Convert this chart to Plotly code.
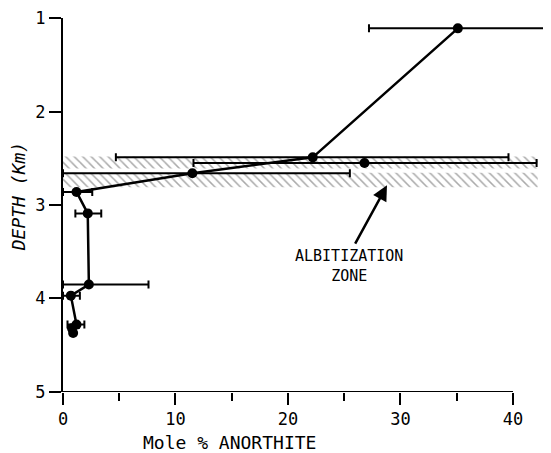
import plotly.graph_objects as go

# ---- data ----
anorthite = [35.1, 22.2, 11.5, 1.2, 2.2, 2.3, 0.7, 1.2, 0.8, 0.9]
depth = [1.11, 2.49, 2.66, 2.86, 3.09, 3.85, 3.97, 4.28, 4.32, 4.37]
err_low = [27.2, 4.7, 0.0, 0.0, 1.1, 0.0, 0.0, 0.4, None, None]
err_high = [43.3, 39.6, 25.5, 2.6, 3.4, 7.6, 1.5, 1.9, None, None]

# off-line sample
extra_anorthite = [26.8]
extra_depth = [2.55]
extra_low = [11.6]
extra_high = [42.1]

# albitization zone (two hatched bands)
zone_bands = [(2.48, 2.61), (2.655, 2.81)]
zone_x = (0.0, 42.2)

x_ticks = [0, 10, 20, 30, 40]
x_minor = [5, 15, 25, 35]
y_ticks = [1, 2, 3, 4, 5]


def minus(vals, lows):
    return [None if l is None else v - l for v, l in zip(vals, lows)]


def plus(vals, highs):
    return [None if h is None else h - v for v, h in zip(vals, highs)]


fig = go.Figure()

for top, bot in zone_bands:
    fig.add_trace(go.Scatter(
        x=[zone_x[0], zone_x[1], zone_x[1], zone_x[0], zone_x[0]],
        y=[top, top, bot, bot, top],
        fill="toself", mode="lines", line=dict(width=0),
        fillcolor="rgba(0,0,0,0)",
        fillpattern=dict(shape="\\", size=6, solidity=0.25,
                         fgcolor="#555", bgcolor="white"),
        hoverinfo="skip", showlegend=False,
    ))

err_style = dict(type="data", symmetric=False, color="black", thickness=2, width=4)

fig.add_trace(go.Scatter(
    x=anorthite, y=depth, mode="lines+markers",
    line=dict(color="black", width=2.5),
    marker=dict(color="black", size=10),
    error_x=dict(array=plus(anorthite, err_high), arrayminus=minus(anorthite, err_low), **err_style),
    cliponaxis=False, showlegend=False,
))
fig.add_trace(go.Scatter(
    x=extra_anorthite, y=extra_depth, mode="markers",
    marker=dict(color="black", size=10),
    error_x=dict(array=plus(extra_anorthite, extra_high), arrayminus=minus(extra_anorthite, extra_low), **err_style),
    cliponaxis=False, showlegend=False,
))

font_family = "DejaVu Sans Mono"

fig.update_layout(
    width=543, height=445,
    margin=dict(l=55, r=0, t=10, b=61),
    plot_bgcolor="white", paper_bgcolor="white",
    font=dict(family=font_family, color="black"),
    xaxis=dict(
        range=[0, 43.38], showgrid=False, zeroline=False, showline=False,
        tickvals=x_ticks, ticks="outside", ticklen=12, tickwidth=2, tickcolor="black",
        tickfont=dict(size=17),
        minor=dict(tickvals=x_minor, ticks="outside", ticklen=8, tickwidth=2, tickcolor="black"),
    ),
    yaxis=dict(
        range=[5.001, 0.999], showgrid=False, zeroline=False, showline=True,
        linewidth=2, linecolor="black",
        tickvals=y_ticks, ticks="outside", ticklen=12, tickwidth=2, tickcolor="black",
        tickfont=dict(size=17),
    ),
    shapes=[dict(type="line", xref="x", yref="y", x0=0, x1=40, y0=5, y1=5,
                 line=dict(color="black", width=2))],
    annotations=[
        dict(text="Mole % ANORTHITE", xref="paper", yref="paper", x=0.342, y=-0.136,
             showarrow=False, font=dict(size=18, family=font_family), xanchor="center", yanchor="middle"),
        dict(text="DEPTH (Km)", xref="paper", yref="paper", x=-0.092, y=0.521, textangle=-90,
             showarrow=False, font=dict(size=18, family=font_family, style="italic"),
             xanchor="center", yanchor="middle"),
        dict(text="ALBITIZATION<br>ZONE", xref="paper", yref="paper", x=0.586, y=0.338,
             showarrow=False, font=dict(size=15, family=font_family), xanchor="center", yanchor="middle"),
        dict(text="", x=28.8, y=2.79, xref="x", yref="y", ax=25.9, ay=3.43, axref="x", ayref="y",
             showarrow=True, arrowhead=2, arrowsize=1.2, arrowwidth=2.5, arrowcolor="black"),
    ],
)

fig.write_html("out.html")
